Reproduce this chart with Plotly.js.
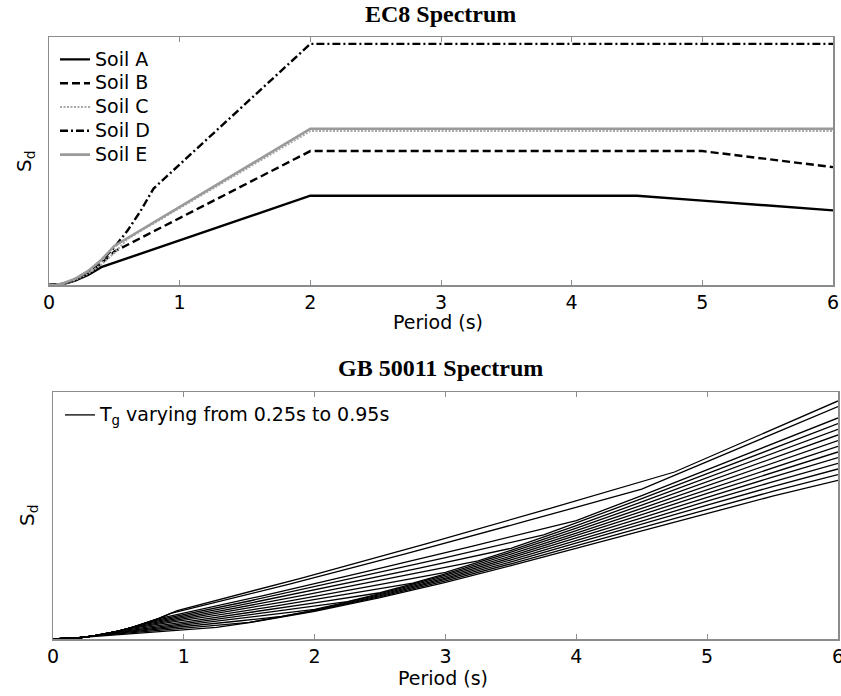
<!DOCTYPE html>
<html>
<head>
<meta charset="utf-8">
<script src="https://cdn.plot.ly/plotly-3.0.1.min.js"></script>
<style>html,body{margin:0;padding:0;background:#fff;}#chart{width:841px;height:696px;}</style>
</head>
<body>
<div id="chart"></div>
<script>
// ---------- EC8 spectrum (top panel) ----------
const soilNames = ['Soil A', 'Soil B', 'Soil C', 'Soil D', 'Soil E'];
const soilA_T  = [0, 0.05, 0.1, 0.15, 0.2, 0.3, 0.4, 2, 4.5, 5, 6];
const soilA_Sd = [0, 0.0015, 0.008, 0.0225, 0.04, 0.09, 0.16, 0.8, 0.8, 0.756, 0.669];
const soilB_T  = [0, 0.05, 0.1, 0.15, 0.2, 0.3, 0.4, 0.5, 2, 5, 6];
const soilB_Sd = [0, 0.0018, 0.0096, 0.027, 0.048, 0.108, 0.192, 0.3, 1.2, 1.2, 1.056];
const soilC_T  = [0, 0.05, 0.1, 0.15, 0.2, 0.3, 0.4, 0.5, 0.6, 2, 6];
const soilC_Sd = [0, 0.0016, 0.0081, 0.022, 0.046, 0.1035, 0.184, 0.2875, 0.414, 1.38, 1.38];
const soilD_T  = [0, 0.05, 0.1, 0.15, 0.2, 0.3, 0.4, 0.5, 0.6, 0.7, 0.8, 2, 6];
const soilD_Sd = [0, 0.0019, 0.0095, 0.0258, 0.054, 0.1215, 0.216, 0.3375, 0.486, 0.6615, 0.864, 2.16, 2.16];
const soilE_T  = [0, 0.05, 0.1, 0.15, 0.2, 0.3, 0.4, 0.5, 2, 6];
const soilE_Sd = [0, 0.0021, 0.0112, 0.0315, 0.056, 0.126, 0.224, 0.35, 1.4, 1.4];

// ---------- GB 50011 spectrum (bottom panel) ----------
const gbTg = [0.25, 0.30, 0.35, 0.40, 0.45, 0.50, 0.55, 0.60, 0.65, 0.70, 0.75, 0.80, 0.90, 0.95];
const gbT = [
  [0, 0.1, 0.2, 0.25, 0.5, 0.75, 1.0, 1.25, 1.5, 2, 2.5, 3, 3.5, 4, 4.5, 5, 5.5, 6],
  [0, 0.1, 0.2, 0.3, 0.6, 0.9, 1.2, 1.5, 2, 2.5, 3, 3.5, 4, 4.5, 5, 5.5, 6],
  [0, 0.1, 0.2, 0.35, 0.7, 1.05, 1.4, 1.75, 2, 2.5, 3, 3.5, 4, 4.5, 5, 5.5, 6],
  [0, 0.1, 0.2, 0.3, 0.4, 0.8, 1.2, 1.6, 2.0, 2.5, 3, 3.5, 4, 4.5, 5, 5.5, 6],
  [0, 0.1, 0.2, 0.3, 0.45, 0.9, 1.35, 1.8, 2.25, 2.5, 3, 3.5, 4, 4.5, 5, 5.5, 6],
  [0, 0.1, 0.2, 0.3, 0.4, 0.5, 1.0, 1.5, 2.0, 2.5, 3, 3.5, 4, 4.5, 5, 5.5, 6],
  [0, 0.1, 0.2, 0.3, 0.4, 0.55, 1.1, 1.65, 2.2, 2.75, 3, 3.5, 4, 4.5, 5, 5.5, 6],
  [0, 0.1, 0.2, 0.3, 0.4, 0.5, 0.6, 1.2, 1.8, 2.4, 3.0, 3.5, 4, 4.5, 5, 5.5, 6],
  [0, 0.1, 0.2, 0.3, 0.4, 0.5, 0.65, 1.3, 1.95, 2.6, 3.25, 3.5, 4, 4.5, 5, 5.5, 6],
  [0, 0.1, 0.2, 0.3, 0.4, 0.5, 0.6, 0.7, 1.4, 2.1, 2.8, 3.5, 4, 4.5, 5, 5.5, 6],
  [0, 0.1, 0.2, 0.3, 0.4, 0.5, 0.6, 0.75, 1.5, 2.25, 3.0, 3.75, 4, 4.5, 5, 5.5, 6],
  [0, 0.1, 0.2, 0.3, 0.4, 0.5, 0.6, 0.7, 0.8, 1.6, 2.4, 3.2, 4.0, 4.5, 5, 5.5, 6],
  [0, 0.1, 0.2, 0.3, 0.4, 0.5, 0.6, 0.7, 0.8, 0.9, 1.8, 2.7, 3.6, 4.5, 5, 5.5, 6],
  [0, 0.1, 0.2, 0.3, 0.4, 0.5, 0.6, 0.7, 0.8, 0.95, 1.9, 2.85, 3.8, 4.75, 5, 5.5, 6]
];
const gbSd = [
  [0, 0.01, 0.04, 0.0625, 0.134, 0.2093, 0.2872, 0.3671, 0.5173, 0.8796, 1.3119, 1.7991, 2.3263, 2.8784, 3.4405, 3.9975, 4.5345, 5.0364],
  [0, 0.01, 0.04, 0.09, 0.1929, 0.3014, 0.4135, 0.5286, 0.8996, 1.3431, 1.8441, 2.3875, 2.9584, 3.5417, 4.1225, 4.6857, 5.2164],
  [0, 0.01, 0.04, 0.1225, 0.2626, 0.4102, 0.5629, 0.7195, 0.9196, 1.3744, 1.8891, 2.4488, 3.0384, 3.643, 4.2475, 4.837, 5.3964],
  [0, 0.01, 0.04, 0.09, 0.16, 0.343, 0.5357, 0.7352, 0.9397, 1.4056, 1.9341, 2.51, 3.1184, 3.7442, 4.3725, 4.9882, 5.5764],
  [0, 0.01, 0.04, 0.09, 0.2025, 0.4341, 0.6781, 0.9305, 1.1893, 1.4369, 1.9791, 2.5713, 3.1984, 3.8455, 4.4975, 5.1395, 5.7564],
  [0, 0.01, 0.04, 0.09, 0.16, 0.25, 0.5359, 0.8371, 1.1487, 1.4683, 2.0241, 2.6325, 3.2784, 3.9467, 4.6225, 5.2907, 5.9364],
  [0, 0.01, 0.04, 0.09, 0.16, 0.3025, 0.6484, 1.0129, 1.3899, 1.7766, 2.0691, 2.6938, 3.3584, 4.048, 4.7475, 5.442, 6.1164],
  [0, 0.01, 0.04, 0.09, 0.16, 0.25, 0.36, 0.7717, 1.2054, 1.6541, 2.1143, 2.755, 3.4384, 4.1492, 4.8725, 5.5932, 6.2964],
  [0, 0.01, 0.04, 0.09, 0.16, 0.25, 0.4225, 0.9056, 1.4147, 1.9413, 2.4814, 2.8163, 3.5184, 4.2505, 4.9975, 5.7445, 6.4764],
  [0, 0.01, 0.04, 0.09, 0.16, 0.25, 0.36, 0.49, 1.0503, 1.6407, 2.2515, 2.8778, 3.5984, 4.3517, 5.1225, 5.8957, 6.6564],
  [0, 0.01, 0.04, 0.09, 0.16, 0.25, 0.36, 0.5625, 1.2057, 1.8835, 2.5846, 3.3036, 3.6784, 4.453, 5.2475, 6.047, 6.8364],
  [0, 0.01, 0.04, 0.09, 0.16, 0.25, 0.36, 0.49, 0.64, 1.3718, 2.143, 2.9407, 3.7588, 4.5542, 5.3725, 6.1982, 7.0164],
  [0, 0.01, 0.04, 0.09, 0.16, 0.25, 0.36, 0.49, 0.64, 0.81, 1.7362, 2.7122, 3.7218, 4.7572, 5.6225, 6.5007, 7.3764],
  [0, 0.01, 0.04, 0.09, 0.16, 0.25, 0.36, 0.49, 0.64, 0.9025, 1.9345, 3.0219, 4.1468, 5.3005, 5.7475, 6.652, 7.5564]
];

const periodTicks = [0, 1, 2, 3, 4, 5, 6];
const titleTop = 'EC8 Spectrum';
const titleBottom = 'GB 50011 Spectrum';
const xLabel = 'Period (s)';
const yLabel = 'S<sub>d</sub>';
const gbLegend = 'T<sub>g</sub> varying from 0.25s to 0.95s';

const W = 841, H = 696;
const px = v => v / W;
const py = v => 1 - v / H;
const sans = '"DejaVu Sans", "Liberation Sans", Arial, sans-serif';
const big = s => '<span style="font-size:19px">' + s + '</span>';

const soilStyles = [
  {color: '#000000', width: 2.4, dash: 'solid'},
  {color: '#000000', width: 2.4, dash: '8px,4px'},
  {color: '#a8a8a8', width: 2.2, dash: '2px,1.5px'},
  {color: '#000000', width: 2.4, dash: '8px,3px,2px,3px'},
  {color: '#9a9a9a', width: 2.6, dash: 'solid'}
];
const soilTs = [soilA_T, soilB_T, soilC_T, soilD_T, soilE_T];
const soilSds = [soilA_Sd, soilB_Sd, soilC_Sd, soilD_Sd, soilE_Sd];

const traces = [];
soilNames.forEach((n, i) => {
  traces.push({
    type: 'scatter', mode: 'lines', name: big(n),
    x: soilTs[i], y: soilSds[i], xaxis: 'x', yaxis: 'y',
    line: soilStyles[i], legend: 'legend', hoverinfo: 'skip'
  });
});
gbTg.forEach((tg, i) => {
  traces.push({
    type: 'scatter', mode: 'lines', name: big(gbLegend),
    x: gbT[i], y: gbSd[i], xaxis: 'x2', yaxis: 'y2',
    line: {color: '#000', width: 1.3},
    showlegend: i === 0, legend: 'legend2', hoverinfo: 'skip'
  });
});

const frameColor = '#8c8c8c';
const xBase = {
  range: [0, 6], tickvals: periodTicks, ticktext: periodTicks.map(String),
  ticks: 'inside', ticklen: 5, tickwidth: 1, tickcolor: frameColor,
  showline: true, linecolor: frameColor, linewidth: 1.5, mirror: 'ticks',
  showgrid: false, zeroline: false, fixedrange: true, ticklabeloverflow: 'allow',
  tickfont: {family: sans, size: 19, color: '#000'}
};
const yBase = {
  showticklabels: false, ticks: '', showline: true, linecolor: frameColor,
  linewidth: 1.5, mirror: true, showgrid: false, zeroline: false, fixedrange: true
};

const layout = {
  width: W, height: H,
  margin: {l: 0, r: 0, t: 0, b: 0},
  paper_bgcolor: '#fff', plot_bgcolor: '#fff',
  font: {family: sans, size: 19, color: '#000'},
  xaxis: Object.assign({}, xBase, {domain: [px(49), px(833)], anchor: 'y'}),
  yaxis: Object.assign({}, yBase, {domain: [py(285), py(37)], range: [0, 2.222], anchor: 'x'}),
  xaxis2: Object.assign({}, xBase, {domain: [px(53), px(838)], anchor: 'y2'}),
  yaxis2: Object.assign({}, yBase, {domain: [py(639), py(392)], range: [0, 7.84], anchor: 'x2'}),
  legend: {
    x: px(55), y: py(42.5), xanchor: 'left', yanchor: 'top',
    bgcolor: 'rgba(0,0,0,0)', borderwidth: 0, font: {family: sans, size: 16}
  },
  legend2: {
    x: px(60), y: py(398), xanchor: 'left', yanchor: 'top',
    bgcolor: 'rgba(0,0,0,0)', borderwidth: 0, font: {family: sans, size: 16}
  },
  showlegend: true,
  annotations: [
    {text: '<b>' + titleTop + '</b>', x: px(441), y: py(14), xref: 'paper', yref: 'paper',
     xanchor: 'center', yanchor: 'middle', showarrow: false,
     font: {family: '"Liberation Serif", "Times New Roman", serif', size: 24}},
    {text: '<b>' + titleBottom + '</b>', x: px(441), y: py(368), xref: 'paper', yref: 'paper',
     xanchor: 'center', yanchor: 'middle', showarrow: false,
     font: {family: '"Liberation Serif", "Times New Roman", serif', size: 24}},
    {text: xLabel, x: px(438), y: py(322), xref: 'paper', yref: 'paper',
     xanchor: 'center', yanchor: 'middle', showarrow: false, font: {family: sans, size: 19}},
    {text: xLabel, x: px(443), y: py(678), xref: 'paper', yref: 'paper',
     xanchor: 'center', yanchor: 'middle', showarrow: false, font: {family: sans, size: 19}},
    {text: yLabel, x: px(25), y: py(161), xref: 'paper', yref: 'paper', textangle: -90,
     xanchor: 'center', yanchor: 'middle', showarrow: false, font: {family: sans, size: 20}},
    {text: yLabel, x: px(28), y: py(515), xref: 'paper', yref: 'paper', textangle: -90,
     xanchor: 'center', yanchor: 'middle', showarrow: false, font: {family: sans, size: 20}}
  ]
};

Plotly.newPlot('chart', traces, layout, {displayModeBar: false, staticPlot: true});
</script>
</body>
</html>
